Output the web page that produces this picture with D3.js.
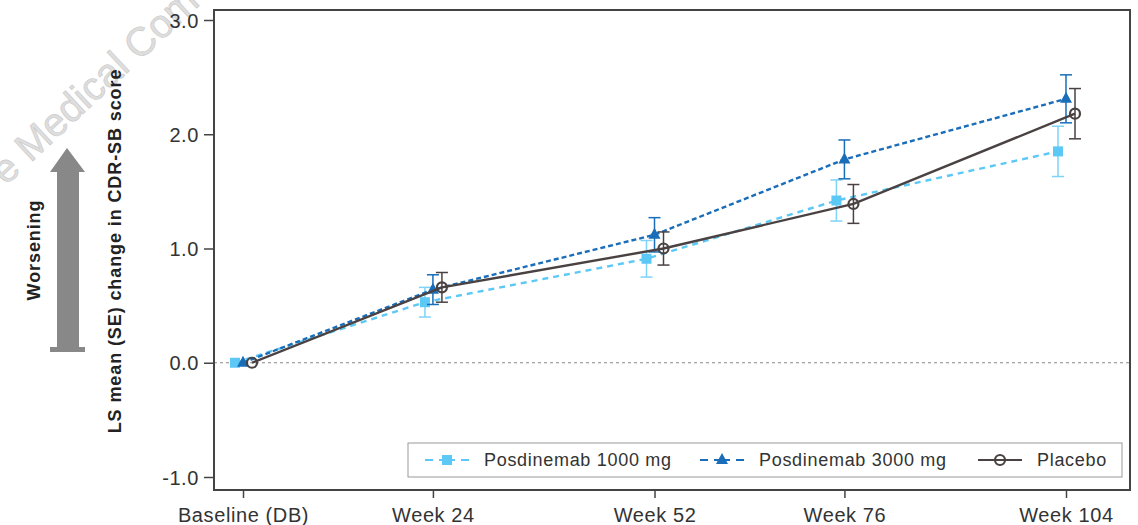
<!DOCTYPE html>
<html>
<head>
<meta charset="utf-8">
<script src="https://cdn.jsdelivr.net/npm/d3@7"></script>
<style>
  html, body { margin: 0; padding: 0; background: #fff; }
  svg { display: block; }
  text { font-family: "Liberation Sans", Arial, sans-serif; }
</style>
</head>
<body>
<svg id="chart" width="1138" height="525"></svg>
<script>
// ---- data ----
const weeks    = [0, 24, 52, 76, 104];
const xLabels  = ["Baseline (DB)", "Week 24", "Week 52", "Week 76", "Week 104"];
const yTicks   = [-1, 0, 1, 2, 3];
const yTickLabels = ["-1.0", "0.0", "1.0", "2.0", "3.0"];
const seriesNames = ["Posdinemab 1000 mg", "Posdinemab 3000 mg", "Placebo"];
const dose1000   = [0, 0.53, 0.91, 1.42, 1.85];
const se1000     = [0, 0.13, 0.16, 0.18, 0.22];
const dose3000   = [0, 0.64, 1.12, 1.78, 2.31];
const se3000     = [0, 0.13, 0.15, 0.17, 0.21];
const placebo    = [0, 0.66, 1.00, 1.39, 2.18];
const sePlacebo  = [0, 0.13, 0.145, 0.17, 0.22];

const svg = d3.select("#chart");
const frame = {left: 214, right: 1130, top: 10, bottom: 490};

const x = d3.scaleLinear().domain([0, 104]).range([243, 1066]);
const y = d3.scaleLinear().domain([-1, 3]).range([477, 20]);

// watermark
svg.append("text")
  .attr("transform", "translate(6,186) rotate(-43)")
  .attr("font-size", 40)
  .attr("fill", "#dedede")
  .attr("stroke", "#c8c8c8")
  .attr("stroke-width", 0.6)
  .text("e Medical Com");

// zero reference line
svg.append("line")
  .attr("x1", frame.left).attr("x2", frame.right)
  .attr("y1", y(0)).attr("y2", y(0))
  .attr("stroke", "#888").attr("stroke-width", 1)
  .attr("stroke-dasharray", "3,3");

// axes
const yAxis = svg.append("g")
  .attr("transform", `translate(${frame.left},0)`)
  .call(d3.axisLeft(y).tickValues(yTicks).tickFormat((d, i) => yTickLabels[i]).tickSize(10).tickPadding(5));
const xAxis = svg.append("g")
  .attr("transform", `translate(0,${frame.bottom})`)
  .call(d3.axisBottom(x).tickValues(weeks).tickFormat((d, i) => xLabels[i]).tickSize(8).tickPadding(5));
[yAxis, xAxis].forEach(g => {
  g.select(".domain").remove();
  g.selectAll(".tick line").attr("stroke", "#444").attr("stroke-width", 1.5);
  g.selectAll(".tick text").attr("fill", "#333").attr("font-size", 20)
    .attr("letter-spacing", "0.6px")
    .style("font-family", "'Liberation Sans', Arial, sans-serif");
});
yAxis.selectAll(".tick text").attr("dy", "0.36em");
xAxis.selectAll(".tick text").attr("dy", "0.95em");

// frame
svg.append("rect")
  .attr("x", frame.left).attr("y", frame.top)
  .attr("width", frame.right - frame.left).attr("height", frame.bottom - frame.top)
  .attr("fill", "none").attr("stroke", "#444").attr("stroke-width", 2);

// axis title
svg.append("text")
  .attr("transform", "translate(121,251) rotate(-90)")
  .attr("text-anchor", "middle")
  .attr("font-size", 18).attr("font-weight", "bold")
  .attr("letter-spacing", "0.9px")
  .attr("fill", "#222")
  .text("LS mean (SE) change in CDR-SB score");

// worsening arrow
svg.append("path")
  .attr("d", "M67,148 L85,172 L79,172 L79,347 L85,347 L85,352 L50,352 L50,347 L57,347 L57,172 L50,172 Z")
  .attr("fill", "#888");
svg.append("text")
  .attr("transform", "translate(40,250) rotate(-90)")
  .attr("text-anchor", "middle")
  .attr("font-size", 18).attr("font-weight", "bold")
  .attr("letter-spacing", "0.9px")
  .attr("fill", "#222")
  .text("Worsening");

// series
const series = [
  {name: seriesNames[0], values: dose1000, se: se1000, color: "#5cc8f5", errColor: "#7fd3f7", dash: "6,5", dx: -8, shape: "square"},
  {name: seriesNames[1], values: dose3000, se: se3000, color: "#1a6db8", errColor: "#1a6db8", dash: "5,3", dx: 0, shape: "triangle"},
  {name: seriesNames[2], values: placebo, se: sePlacebo, color: "#4a4242", errColor: "#4a4242", dash: null, dx: 9, shape: "circle"}
];

function drawMarker(g, shape, cx, cy, color) {
  if (shape === "square") {
    g.append("rect").attr("x", cx - 5).attr("y", cy - 5)
      .attr("width", 10).attr("height", 10).attr("fill", color);
  } else if (shape === "triangle") {
    g.append("path")
      .attr("d", `M${cx},${cy - 7} L${cx + 6},${cy + 4} L${cx - 6},${cy + 4} Z`)
      .attr("fill", color);
  } else {
    g.append("circle").attr("cx", cx).attr("cy", cy).attr("r", 5)
      .attr("fill", "none").attr("stroke", color).attr("stroke-width", 2.2);
  }
}

series.forEach(s => {
  const g = svg.append("g");
  const pts = weeks.map((w, i) => ({w, v: s.values[i], se: s.se[i]}));
  const line = d3.line().x(d => x(d.w) + s.dx).y(d => y(d.v));
  g.append("path").datum(pts)
    .attr("d", line)
    .attr("fill", "none").attr("stroke", s.color).attr("stroke-width", 2.4)
    .attr("stroke-dasharray", s.dash);
  pts.filter(d => d.se > 0).forEach(d => {
    const cx = x(d.w) + s.dx;
    const y1 = y(d.v + d.se), y2 = y(d.v - d.se);
    g.append("line").attr("x1", cx).attr("x2", cx).attr("y1", y1).attr("y2", y2)
      .attr("stroke", s.errColor).attr("stroke-width", 1.5);
    [y1, y2].forEach(yy => g.append("line")
      .attr("x1", cx - 6).attr("x2", cx + 6).attr("y1", yy).attr("y2", yy)
      .attr("stroke", s.errColor).attr("stroke-width", 1.5));
  });
  pts.forEach(d => drawMarker(g, s.shape, x(d.w) + s.dx, y(d.v), s.color));
});

// legend
const leg = svg.append("g");
leg.append("rect").attr("x", 408).attr("y", 443).attr("width", 714).attr("height", 34)
  .attr("fill", "#fff").attr("stroke", "#999").attr("stroke-width", 1);
const legX = [425, 700, 978];
series.forEach((s, i) => {
  const lx = legX[i], ly = 460;
  leg.append("line").attr("x1", lx).attr("x2", lx + 44).attr("y1", ly).attr("y2", ly)
    .attr("stroke", s.color).attr("stroke-width", 2)
    .attr("stroke-dasharray", s.dash ? "8,6,16,6,8" : null);
  drawMarker(leg, s.shape, lx + 22, ly, s.color);
  leg.append("text").attr("x", lx + 59).attr("y", ly).attr("dy", "0.36em")
    .attr("font-size", 18).attr("letter-spacing", "0.7px").attr("fill", "#333")
    .text(s.name);
});
</script>
</body>
</html>
